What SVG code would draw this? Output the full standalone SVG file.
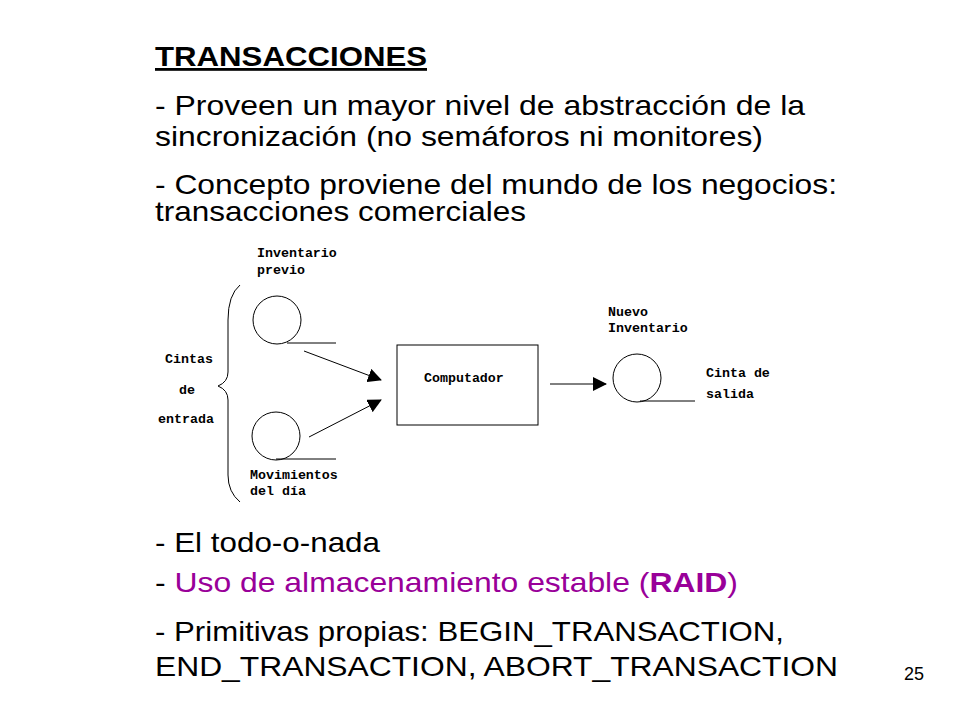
<svg xmlns="http://www.w3.org/2000/svg" width="960" height="720" viewBox="0 0 960 720">
<style>
.t{font-family:"Liberation Sans",Arial,sans-serif;font-size:28px;fill:#000}
.m{font-family:"Liberation Mono","DejaVu Sans Mono",monospace;font-size:13.3px;font-weight:bold;fill:#000}
.s{fill:none;stroke:#000;stroke-width:1}
</style>
<defs><marker id="a" markerWidth="14" markerHeight="14" refX="13" refY="7" orient="auto" markerUnits="userSpaceOnUse"><path d="M0,0 L14,7 L0,14 Z" fill="#000"/></marker></defs>
<rect width="960" height="720" fill="#fff"/>
<text class="t" x="155" y="66" font-weight="bold" text-decoration="underline" font-size="26" textLength="272" lengthAdjust="spacingAndGlyphs">TRANSACCIONES</text>
<text class="t" x="155" y="115" textLength="650" lengthAdjust="spacingAndGlyphs">- Proveen un mayor nivel de abstracción de la</text>
<text class="t" x="155" y="146" textLength="608" lengthAdjust="spacingAndGlyphs">sincronización (no semáforos ni monitores)</text>
<text class="t" x="155" y="194" textLength="682" lengthAdjust="spacingAndGlyphs">- Concepto proviene del mundo de los negocios:</text>
<text class="t" x="155" y="221" textLength="371" lengthAdjust="spacingAndGlyphs">transacciones comerciales</text>
<text class="t" x="155" y="552" textLength="225" lengthAdjust="spacingAndGlyphs">- El todo-o-nada</text>
<text class="t" x="155" y="592" textLength="583" lengthAdjust="spacingAndGlyphs">- <tspan fill="#990099">Uso de almacenamiento estable (<tspan font-weight="bold">RAID</tspan>)</tspan></text>
<text class="t" x="155" y="641" textLength="629" lengthAdjust="spacingAndGlyphs">- Primitivas propias: BEGIN_TRANSACTION,</text>
<text class="t" x="155" y="676" textLength="683" lengthAdjust="spacingAndGlyphs">END_TRANSACTION, ABORT_TRANSACTION</text>
<text x="904" y="680" style="font-family:'Liberation Sans',Arial,sans-serif;font-size:18px">25</text>
<g id="brace"><path class="s" d="M240,285 Q228,295 228,320 L228,372 Q228,382 218,386 Q228,390 228,400 L228,475 Q228,492 240,502"/></g>
<g id="tape1"><circle class="s" cx="277" cy="320" r="24"/><line class="s" x1="287" y1="343" x2="336" y2="343"/></g>
<g id="tape2"><circle class="s" cx="276" cy="436" r="24"/><line class="s" x1="276" y1="459" x2="336" y2="459"/></g>
<g id="computador"><rect class="s" x="397" y="345" width="141" height="80"/><text class="m" x="424" y="382">Computador</text></g>
<g id="tape3"><circle class="s" cx="637" cy="378" r="24"/><line class="s" x1="640" y1="401" x2="695" y2="401"/></g>
<g id="connectors">
<line class="s" x1="304" y1="351" x2="381" y2="380" marker-end="url(#a)"/>
<line class="s" x1="309" y1="437" x2="381" y2="400" marker-end="url(#a)"/>
<line class="s" x1="550" y1="384" x2="606" y2="384" marker-end="url(#a)"/>
</g>
<g id="labels">
<text class="m" x="257" y="257">Inventario</text><text class="m" x="257" y="274">previo</text>
<text class="m" x="165" y="363">Cintas</text><text class="m" x="179" y="394">de</text><text class="m" x="158" y="423">entrada</text>
<text class="m" x="250" y="479">Movimientos</text><text class="m" x="250" y="495">del día</text>
<text class="m" x="608" y="316">Nuevo</text><text class="m" x="608" y="332">Inventario</text>
<text class="m" x="706" y="377">Cinta de</text><text class="m" x="706" y="398">salida</text>
</g>
</svg>
